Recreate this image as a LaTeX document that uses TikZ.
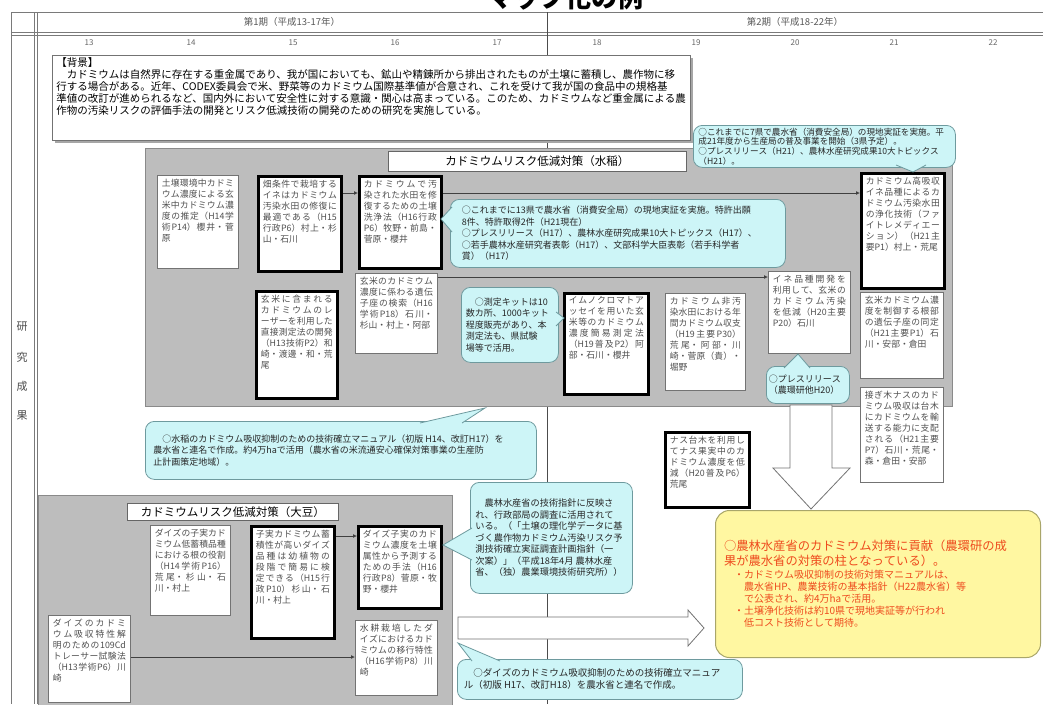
\documentclass[tikz,border=0pt]{standalone}
\usepackage{fontspec}
\setmainfont{Noto Sans CJK JP}
\usetikzlibrary{arrows.meta}
\XeTeXlinebreaklocale "ja"
\XeTeXlinebreakskip=0pt plus 2pt
\definecolor{secfill}{HTML}{BDBDBD}
\definecolor{secline}{HTML}{8A8A8A}
\definecolor{calfill}{HTML}{CDF5F7}
\definecolor{calline}{HTML}{6E9A9E}
\definecolor{yelfill}{HTML}{FFF7A1}
\definecolor{yelline}{HTML}{A9A66A}
\definecolor{redtxt}{HTML}{EE4B1E}
\definecolor{boxtxt}{HTML}{505050}
\definecolor{tabline}{HTML}{7A7A7A}
\tikzset{
  tline/.style={draw=tabline,line width=0.7pt},
  tbox/.style={draw=black!55,line width=0.7pt,fill=white,text=boxtxt,font=\fontsize{8.8}{11}\selectfont},
  kbox/.style={draw=black,line width=2.6pt,fill=white,text=boxtxt,font=\fontsize{8.8}{11}\selectfont},
  callbox/.style={draw=calline,line width=0.8pt,fill=calfill,rounded corners=9pt,text=black!85},
  conn/.style={draw=black!75,line width=0.8pt,-{Latex[length=4pt,width=4pt]}},
  section/.style={draw=secline,line width=0.6pt,fill=secfill},
  sectitle/.style={draw=black!60,line width=0.7pt,fill=white,inner sep=0pt,font=\fontsize{11.5}{12}\selectfont,text=black},
  hollow/.style={draw=black!55,line width=0.8pt,fill=white},
  yr/.style={font=\fontsize{8}{9}\selectfont,text=black!60},
  hdr/.style={font=\fontsize{9.5}{10}\selectfont,text=black!65},
}
\newcommand\bx[7]{\node[#6,anchor=north west,inner sep=0pt,minimum width=#4pt-#2pt,minimum height=#5pt-#3pt] (#1) at (#2,#3) {\parbox[c][\dimexpr#5pt-#3pt-7pt\relax][t]{\dimexpr#4pt-#2pt-9pt\relax}{#7}};}
\newcommand\cl[9]{\node[callbox,anchor=north west,inner sep=0pt,minimum width=#4pt-#2pt,minimum height=#5pt-#3pt,font=\fontsize{#6}{#7}\selectfont] (#1) at (#2,#3) {\parbox{#8pt}{\raggedright #9}};}
\newcommand\tail[3]{\fill[calfill] #1 -- #3 -- #2 -- cycle; \draw[draw=calline,line width=0.8pt] #1 -- #3 -- #2;}
\begin{document}
\begin{tikzpicture}[x=1pt,y=-1pt]
\useasboundingbox (0,0) rectangle (1043,704);
\fill[white] (0,0) rectangle (1043,704);
% cut title
\node[font=\fontsize{26}{26}\selectfont\bfseries,anchor=base] (ttl) at (565,7) {マップ化の例};
% table
\draw[tline] (11,12) -- (1043,12);
\draw[tline] (11,32) -- (1043,32);
\draw[tline] (11,35) -- (1043,35);
\draw[tline] (11,12) -- (11,704);
\draw[tline] (34,12) -- (34,704);
\draw[tline] (37,12) -- (37,704);
\draw[draw=black!70,line width=0.8pt] (547,12) -- (547,704);
\node[hdr] (p1) at (292,22) {第1期（平成13-17年）};
\node[hdr] (p2) at (795,22) {第2期（平成18-22年）};
\foreach \yy/\xx in {13/89,14/191,15/293,16/395,17/497,18/597,19/696,20/795,21/894,22/993}
  \node[yr] (y\yy) at (\xx,43) {\yy};
\foreach \ch/\yy in {研/327,究/357,成/386,果/416}
  \node[font=\fontsize{11}{12}\selectfont,text=black!70] (l\yy) at (22,\yy) {\ch};
% background box
\fill[black!35] (55,58) rectangle (693,143);
\node[draw=black!55,line width=0.8pt,fill=white,anchor=north west,inner sep=0pt,minimum width=638pt,minimum height=85pt,font=\fontsize{10.5}{12}\selectfont] (bg) at (52,55)
{\parbox[c][80pt][t]{630pt}{【背景】\\
　カドミウムは自然界に存在する重金属であり、我が国においても、鉱山や精錬所から排出されたものが土壌に蓄積し、農作物に移\\
行する場合がある。近年、CODEX委員会で米、野菜等のカドミウム国際基準値が合意され、これを受けて我が国の食品中の規格基\\
準値の改訂が進められるなど、国内外において安全性に対する意識・関心は高まっている。このため、カドミウムなど重金属による農\\
作物の汚染リスクの評価手法の開発とリスク低減技術の開発のための研究を実施している。}};
% rice section
\draw[section] (145,148) rectangle (952,406);
\node[sectitle,anchor=north west,minimum width=298pt,minimum height=20pt] (ricet) at (388,151) {カドミウムリスク低減対策（水稲）};
\bx{A}{157}{175}{238}{268}{tbox}{土壌環境中カドミウム濃度による玄米中カドミウム濃度の推定（H14学術P14）櫻井・菅原}
\bx{B}{257}{175}{340}{270}{kbox}{畑条件で栽培するイネはカドミウム汚染水田の修復に最適である（H15行政P6）村上・杉山・石川}
\bx{C}{358}{175}{440}{267}{kbox}{カドミウムで汚染された水田を修復するための土壌洗浄法（H16行政P6）牧野・前島・菅原・櫻井}
\bx{C2}{355}{273}{437}{353}{tbox}{玄米のカドミウム濃度に係わる遺伝子座の検索（H16学術P18）石川・杉山・村上・阿部}
\bx{B2}{255}{290}{336}{397}{kbox}{玄米に含まれるカドミウムのレーザーを利用した直接測定法の開発（H13技術P2）和崎・渡邊・和・荒尾}
\bx{F}{563}{292}{647}{393}{kbox}{イムノクロマトアッセイを用いた玄米等のカドミウム濃度簡易測定法（H19普及P2）阿部・石川・櫻井}
\bx{G}{665}{293}{745}{390}{tbox}{カドミウム非汚染水田における年間カドミウム収支（H19主要P30）荒尾・阿部・川崎・菅原（貴）・堀野}
\bx{E}{768}{271}{850}{353}{tbox}{イネ品種開発を利用して、玄米のカドミウム汚染を低減（H20主要P20）石川}
\bx{D}{860}{172}{943}{287}{kbox}{カドミウム高吸収イネ品種によるカドミウム汚染水田の浄化技術（ファイトレメディエーション）（H21主要P1）村上・荒尾}
\bx{H}{860}{292}{943}{378}{tbox}{玄米カドミウム濃度を制御する根部の遺伝子座の同定（H21主要P1）石川・安部・倉田}
\bx{I}{860}{387}{943}{482}{tbox}{接ぎ木ナスのカドミウム吸収は台木にカドミウムを輸送する能力に支配される（H21主要P7）石川・荒尾・森・倉田・安部}
\bx{J}{664}{431}{748}{506}{kbox}{ナス台木を利用してナス果実中のカドミウム濃度を低減（H20普及P6）荒尾}
\coordinate (h1) at (0,193);
\coordinate (h2) at (0,277);
\draw[conn] (B.east |- h1) -- (C.west |- h1);
\draw[conn] (C.east |- h1) -- (D.west |- h1);
\draw[conn] (C2.east |- h2) -- (E.west |- h2);
% callouts rice
\cl{TR}{693}{125}{955}{167}{8.6}{9.6}{252}{○これまでに7県で農水省（消費安全局）の現地実証を実施。平\\成21年度から生産局の普及事業を開始（3県予定）。\\○プレスリリース（H21）、農林水産研究成果10大トピックス\\（H21）。}
\tail{(896,165)}{(926,165)}{(913,172)}
\cl{M1}{450}{199}{785}{267}{9}{11.5}{312}{○これまでに13県で農水省（消費安全局）の現地実証を実施。特許出願\\8件、特許取得2件（H21現在）\\○プレスリリース（H17）、農林水産研究成果10大トピックス（H17）、\\○若手農林水産研究者表彰（H17）、文部科学大臣表彰（若手科学者\\賞）（H17）}
\tail{(452,207)}{(452,232)}{(441,219)}
\cl{MK}{461}{287}{558}{362}{9}{11.5}{88}{　○測定キットは10\\数カ所、1000キット\\程度販売があり、本\\測定法も、県試験\\場等で活用。}
\tail{(556,312)}{(556,326)}{(564,318)}
\cl{PR}{766}{366}{849}{403}{9}{11.5}{78}{○プレスリリース\\（農環研他H20）}
\tail{(784,368)}{(810,368)}{(798,354)}
\cl{MAN}{145}{421}{536}{479}{9}{11.5}{375}{　○水稲のカドミウム吸収抑制のための技術確立マニュアル（初版 H14、改訂H17）を\\農水省と連名で作成。約4万haで活用（農水省の米流通安心確保対策事業の生産防\\止計画策定地域）。}
\tail{(420,423)}{(462,423)}{(485,408)}
% down hollow arrow
\draw[hollow] (790,405) -- (832,405) -- (832,468) -- (850,468) -- (811,509) -- (773,468) -- (790,468) -- cycle;
% soybean section
\draw[section] (38,495) rectangle (452,706);
\node[sectitle,anchor=north west,minimum width=211pt,minimum height=17pt] (soyt) at (127,503) {カドミウムリスク低減対策（大豆）};
\bx{S1}{150}{525}{230}{615}{tbox}{ダイズの子実カドミウム低蓄積品種における根の役割（H14学術P16）荒尾・杉山・石川・村上}
\bx{S2}{250}{525}{333}{637}{kbox}{子実カドミウム蓄積性が高いダイズ品種は幼植物の段階で簡易に検定できる（H15行政P10）杉山・石川・村上}
\bx{S3}{357}{525}{440}{607}{kbox}{ダイズ子実のカドミウム濃度を土壌属性から予測するための手法（H16行政P8）菅原・牧野・櫻井}
\bx{S4}{48}{615}{130}{702}{tbox}{ダイズのカドミウム吸収特性解明のための109Cdトレーサー試験法（H13学術P6）川崎}
\bx{S5}{355}{620}{437}{695}{tbox}{水耕栽培したダイズにおけるカドミウムの移行特性（H16学術P8）川崎}
\coordinate (h3) at (0,536);
\coordinate (h4) at (0,657);
\draw[conn] (S2.east |- h3) -- (S3.west |- h3);
\draw[conn] (S4.east |- h4) -- (S5.west |- h4);
% middle callouts
\cl{MB}{470}{482}{632}{593}{9.2}{11.5}{152}{　農林水産省の技術指針に反映さ\\れ、行政部局の調査に活用されて\\いる。（「土壌の理化学データに基\\づく農作物カドミウム汚染リスク予\\測技術確立実証調査計画指針（一\\次案）」（平成18年4月 農林水産\\省、（独）農業環境技術研究所））}
\tail{(472,528)}{(472,560)}{(443,545)}
\draw[hollow] (458,617) -- (688,617) -- (688,610) -- (704,628) -- (688,646) -- (688,639) -- (458,639) -- cycle;
\cl{BOT}{457}{659}{742}{699}{9.5}{12}{272}{　○ダイズのカドミウム吸収抑制のための技術確立マニュア\\ル（初版 H17、改訂H18）を農水省と連名で作成。}
\tail{(472,661)}{(500,661)}{(458,643)}
% yellow result box
\node[draw=yelline,line width=1pt,fill=yelfill,rounded corners=14pt,anchor=north west,inner sep=0pt,minimum width=325pt,minimum height=147pt,text=redtxt] (Y) at (715,510)
{\parbox[c][137pt][c]{308pt}{{\fontsize{12.3}{15}\selectfont ○農林水産省のカドミウム対策に貢献（農環研の成\\果が農水省の対策の柱となっている）。\par}
{\fontsize{10}{12.2}\selectfont 　・カドミウム吸収抑制の技術対策マニュアルは、\\　　農水省HP、農業技術の基本指針（H22農水省）等\\　　で公表され、約4万haで活用。\\　・土壌浄化技術は約10県で現地実証等が行われ\\　　低コスト技術として期待。\par}}};
\end{tikzpicture}
\end{document}
